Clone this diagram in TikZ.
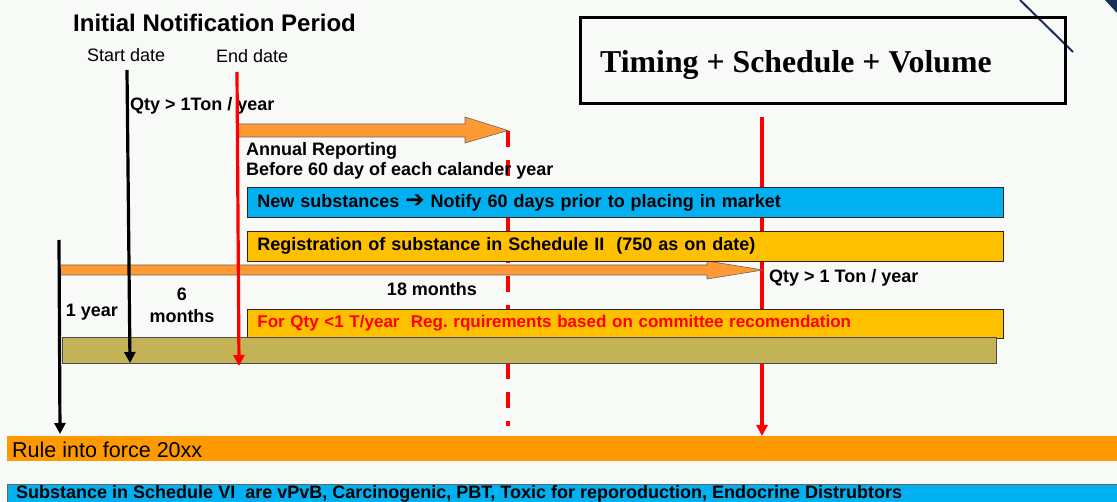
\documentclass[tikz,border=0pt]{standalone}
\usepackage{fontspec}
\setmainfont{Liberation Sans}
\newfontfamily\tsvfont{Liberation Serif}
\newfontfamily\symfont{DejaVu Sans}
\usetikzlibrary{positioning, arrows.meta}
\definecolor{bgcol}{RGB}{248,250,248}
\definecolor{skyblue}{RGB}{0,176,240}
\definecolor{gold}{RGB}{255,192,0}
\definecolor{arrowor}{RGB}{255,153,51}
\definecolor{ruleor}{RGB}{255,153,0}
\definecolor{olivebar}{RGB}{196,178,86}
\definecolor{navyline}{RGB}{24,48,84}

\begin{document}
\begin{tikzpicture}[x=1pt, y=-1pt,
	lbl/.style={font=\bfseries\fontsize{18}{19.5}\selectfont, inner sep=0pt, anchor=base west},
	plain/.style={font=\fontsize{18}{22}\selectfont, inner sep=0pt, anchor=base west},
	bar/.style={draw=black!85, line width=0.8pt, minimum height=30pt, text width=736pt, inner xsep=10pt, inner ysep=0pt, align=left, font=\bfseries\fontsize{18}{22}\selectfont},
	fat/.style={fill=arrowor, draw=black!60, line width=0.6pt},
	vline/.style={line width=3.2pt, -{Triangle[length=11pt, width=11pt]}}]
		\fill[bgcol] (0,0) rectangle (1117,502);
		\useasboundingbox (0,0) rectangle (1117,502);
		\draw[navyline, line width=2pt] (1020,0) -- (1073,52);
		\fill[navyline] (1105,0) -- (1117,0) -- (1117,13) -- cycle;
		% lines that run behind the boxes
		\coordinate (rep) at (508,131); \coordinate (repend) at (508,426);
		\draw[red, line width=3.2pt, dash pattern=on 16pt off 13pt] (rep) -- (repend);
		\coordinate (vol) at (762,117); \coordinate (volend) at (762,436);
		\draw[vline, red] (vol) -- (volend);
		\draw[fat] (237,124) -- (465,124) -- (465,117) -- (508,130.5) -- (465,143) -- (465,137) -- (237,137) -- cycle;
		\draw[fat] (59,265) -- (707,265) -- (707,261) -- (763,270) -- (707,279) -- (707,275) -- (59,275) -- cycle;
		% boxes
		\node[draw, line width=3pt, minimum width=485pt, minimum height=86pt, anchor=north west] (tsv) at (579,16) {};
		\node[font=\tsvfont\bfseries\fontsize{31.8}{34}\selectfont, inner sep=0pt, anchor=base west] (tsvtext) at (600,73) {Timing + Schedule + Volume};
		\node[bar, fill=skyblue, anchor=north west] (notify) at (247,187) {New substances {\symfont\fontsize{23}{22}\selectfont ➔} Notify 60 days prior to placing in market};
		\node[bar, fill=gold, below=13pt of notify] (sched2) {Registration of substance in Schedule II\ \ (750 as on date)};
		\node[bar, fill=gold, text=red, minimum height=29pt, font=\bfseries\fontsize{17}{20}\selectfont, below=47pt of sched2] (smallqty) {For Qty <1 T/year\ \ Reg.\ rquirements based on committee recomendation};
		\node[draw=black!70, line width=0.8pt, fill=olivebar, minimum width=934pt, minimum height=26pt, inner sep=0pt, anchor=north west] (phase) at (62,337) {};
		\fill[ruleor] (7,436) rectangle (1117,461);
		\draw[black!60, line width=0.8pt, fill=skyblue] (7,484) rectangle (1130,520);
		% labels
		\node[lbl, font=\bfseries\fontsize{24}{26}\selectfont] (title) at (73,32) {Initial Notification Period};
		\node[plain] (sd) at (87,62) {Start date};
		\node[plain] (ed) at (216,63) {End date};
		\node[lbl] (qty1) at (130,111) {Qty > 1Ton / year};
		\node[lbl, anchor=north west, align=left] (annual) at (246,142.5) {Annual Reporting\\Before 60 day of each calander year};
		\node[lbl] (qty2) at (769,283) {Qty > 1 Ton / year};
		\node[lbl, anchor=base] (m18) at (432,296) {18 months};
		\node[lbl, anchor=base] (y1) at (92,317) {1 year};
		\node[lbl, anchor=north, align=center, font=\bfseries\fontsize{18}{22}\selectfont] (m6) at (182,287.5) {6\\months};
		\node[plain, font=\fontsize{21.5}{22}\selectfont] (rule) at (12,457) {Rule into force 20xx};
		\node[lbl] (vi) at (16,499) {Substance in Schedule VI\ \ are vPvB, Carcinogenic, PBT, Toxic for reporoduction, Endocrine Distrubtors};
		% arrows on top
		\coordinate (sdtop) at (127,70); \coordinate (sdend) at (130,363);
		\coordinate (edtop) at (237,72); \coordinate (edend) at (239,366);
		\coordinate (ruletop) at (59,240); \coordinate (ruleend) at (60,434);
		\draw[vline, black] (sdtop) -- (sdend);
		\draw[vline, red] (edtop) -- (edend);
		\draw[vline, black] (ruletop) -- (ruleend);
	\end{tikzpicture}
\end{document}
